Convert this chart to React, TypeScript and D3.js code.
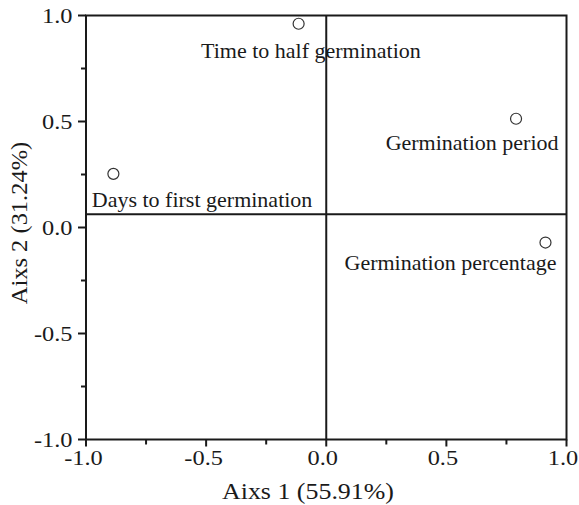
import React from "react";
import * as d3 from "d3";

const variables = [
  "Days to first germination",
  "Time to half germination",
  "Germination period",
  "Germination percentage",
];
const axis1 = [-0.886, -0.115, 0.79, 0.9125];
const axis2 = [0.253, 0.961, 0.513, -0.071];
const majorTicks = [-1.0, -0.5, 0.0, 0.5, 1.0];
const minorTicks = [-0.75, -0.25, 0.25, 0.75];
const refX = 0.0;
const refY = 0.063;
const xTitle = "Aixs 1 (55.91%)";
const yTitle = "Aixs 2 (31.24%)";

// label placement (pixel offsets from the point)
const labelStyle = [
  { dx: -21.6, dy: 33, anchor: "start" },
  { dx: -97.6, dy: 34, anchor: "start" },
  { dx: 42.5, dy: 31.5, anchor: "end" },
  { dx: 11, dy: 27.5, anchor: "end" },
];

const W = 579;
const H = 505;
const M = { left: 86, right: 579 - 566.5, top: 15.5, bottom: 505 - 439.5 };
const FONT = "Liberation Serif, Times New Roman, Tinos, serif";
const INK = "#1a1a1a";
const TICK_FS = 21;
const TICK_SX = 1.16;
const TITLE_FS = 24;

export default function App() {
  const x = d3.scaleLinear().domain([-1, 1]).range([M.left, W - M.right]);
  const y = d3.scaleLinear().domain([-1, 1]).range([H - M.bottom, M.top]);
  const fmt = (v: number) => d3.format(".1f")(v).replace("\u2212", "-");
  const x0 = x(-1), x1 = x(1), y0 = y(-1), y1 = y(1);
  return (
    <svg
      width={W}
      height={H}
      style={{ position: "absolute", left: 0, top: 0, background: "#fff", fontFamily: FONT }}
    >
      {/* frame */}
      <rect x={x0} y={y1} width={x1 - x0} height={y0 - y1} fill="none" stroke={INK} strokeWidth={2} />
      {/* reference lines */}
      <line x1={x(refX)} x2={x(refX)} y1={y1} y2={y0} stroke={INK} strokeWidth={2} />
      <line x1={x0} x2={x1} y1={y(refY)} y2={y(refY)} stroke={INK} strokeWidth={2} />
      {/* y ticks */}
      {majorTicks.map((t) => (
        <g key={"ym" + t}>
          <line x1={x0 - 8} x2={x0} y1={y(t)} y2={y(t)} stroke={INK} strokeWidth={2} />
          <g transform={`translate(${x0 - 13.5}, ${y(t) + 7}) scale(${TICK_SX}, 1)`}>
            <text textAnchor="end" fontSize={TICK_FS} fill={INK}>
              {fmt(t)}
            </text>
          </g>
        </g>
      ))}
      {minorTicks.map((t) => (
        <line key={"yn" + t} x1={x0 - 5} x2={x0} y1={y(t)} y2={y(t)} stroke={INK} strokeWidth={2} />
      ))}
      {/* x ticks */}
      {majorTicks.map((t) => (
        <g key={"xm" + t}>
          <line x1={x(t)} x2={x(t)} y1={y0} y2={y0 + 7} stroke={INK} strokeWidth={2} />
          <g transform={`translate(${x(t) - (t < 0 ? 2.5 : 3.5)}, ${y0 + 25.5}) scale(${TICK_SX}, 1)`}>
            <text textAnchor="middle" fontSize={TICK_FS} fill={INK}>
              {fmt(t)}
            </text>
          </g>
        </g>
      ))}
      {minorTicks.map((t) => (
        <line key={"xn" + t} x1={x(t)} x2={x(t)} y1={y0} y2={y0 + 5} stroke={INK} strokeWidth={2} />
      ))}
      {/* axis titles */}
      <g transform={`translate(308, 499) scale(1.08, 1)`}>
        <text textAnchor="middle" fontSize={TITLE_FS} fill={INK}>
          {xTitle}
        </text>
      </g>
      <g transform={`translate(27, 223) rotate(-90) scale(1.02, 1)`}>
        <text textAnchor="middle" fontSize={TITLE_FS} fill={INK}>
          {yTitle}
        </text>
      </g>
      {/* points */}
      {variables.map((v, i) => (
        <g key={v}>
          <circle cx={x(axis1[i])} cy={y(axis2[i])} r={5.5} fill="#fff" stroke="#333" strokeWidth={1.2} />
          <text
            x={x(axis1[i]) + labelStyle[i].dx}
            y={y(axis2[i]) + labelStyle[i].dy}
            textAnchor={labelStyle[i].anchor as any}
            fontSize={22}
            fill={INK}
          >
            {v}
          </text>
        </g>
      ))}
    </svg>
  );
}
